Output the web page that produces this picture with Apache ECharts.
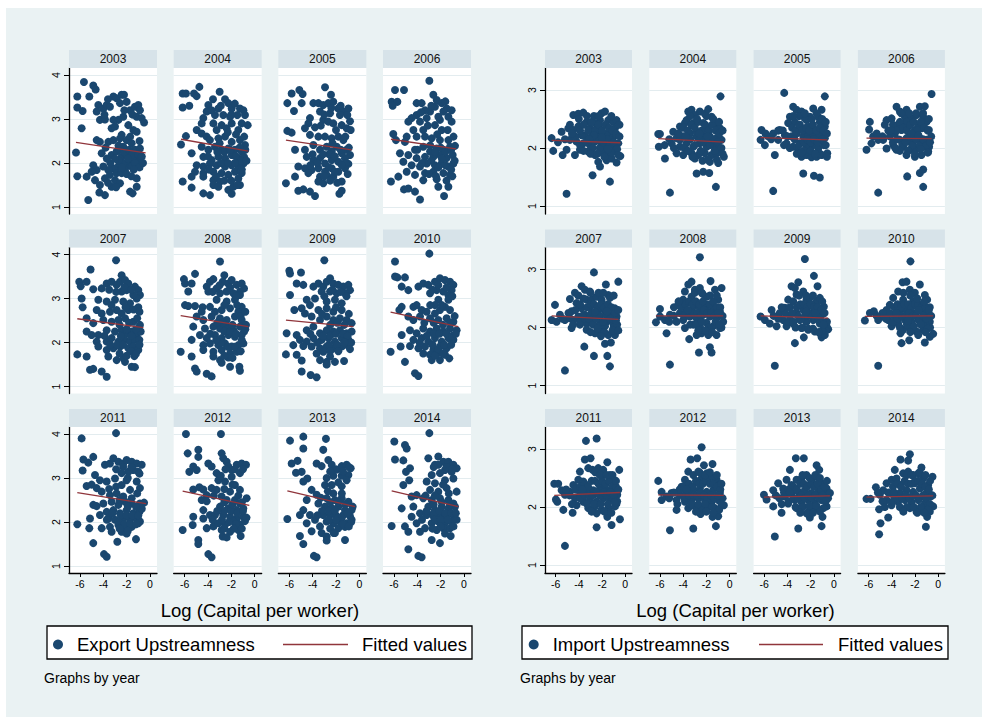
<!DOCTYPE html>
<html>
<head>
<meta charset="utf-8">
<script src="https://cdn.jsdelivr.net/npm/echarts@6/dist/echarts.min.js"></script>
<style>
html, body { margin: 0; padding: 0; background: #ffffff; }
#chart { width: 982px; height: 718px; }
</style>
</head>
<body>
<div id="chart"></div>
<script>
// ---- data: [log capital per worker, upstreamness] per country, one array per year ----
const years = ['2003', '2004', '2005', '2006', '2007', '2008', '2009', '2010', '2011', '2012', '2013', '2014'];

const exp2003 = [[-5.66,3.84],[-4.86,3.76],[-4.66,3.67],[-6.23,3.51],[-5.2,3.51],[-6.23,3.26],[-5.77,3.18],[-5.86,2.79],[-6.34,2.24],[-6.23,1.7],[-5.43,1.69],[-5.29,1.16],
[-4.43,3.32],[-4.57,3.17],[-4.0,3.24],[-3.71,3.32],[-3.43,3.28],[-4.29,2.98],[-3.86,2.99],[-3.14,3.51],[-2.86,3.47],[-2.43,3.55],[-2.23,3.55],[-2.57,3.36],[-2.0,3.39],[-1.71,3.2],[-1.29,3.28],[-1.0,3.32],[-0.86,3.2],[-1.14,3.05],[-0.71,3.02],[-0.51,2.92],[-2.29,3.05],[-2.71,2.98],[-3.14,2.98],[-3.29,2.79],[-3.0,2.83],[-1.43,2.75],[-1.14,2.71],[-1.86,2.86],[-2.43,2.64],
[-4.57,2.52],[-4.29,2.48],[-3.57,2.48],[-3.14,2.52],[-2.57,2.56],[-2.0,2.52],[-1.57,2.45],[-2.29,2.37],[-1.29,2.3],[-0.86,2.33],
[-4.14,2.22],[-3.29,2.18],[-2.86,2.26],[-2.43,2.14],[-2.0,2.18],[-1.71,2.07],[-1.43,2.11],[-1.14,1.99],[-0.86,2.07],[-1.86,1.95],[-2.29,1.99],[-2.71,1.92],[-3.14,1.88],[-3.57,1.84],[-4.0,1.92],[-4.57,1.84],[-4.86,1.95],[-5.0,1.8],[-4.71,1.61],[-4.29,1.5],[-3.86,1.65],[-3.43,1.73],[-3.0,1.61],[-2.57,1.54],[-2.86,1.77],[-2.43,1.77],[-2.14,1.84],[-1.57,1.92],[-1.14,1.65],[-1.71,1.35],[-1.49,1.31],[-1.14,1.46],[-3.29,1.46],[-3.86,1.27],[-4.34,1.33],
[-2.6,2.3],[-2.2,2.25],[-1.8,2.3],[-1.5,2.2],[-1.0,2.2],[-0.7,2.15],[-2.7,2.05],[-2.4,1.9],[-1.9,2.1],[-1.3,2.0],[-0.9,1.9],[-0.6,2.0],[-3.4,2.0],[-3.0,2.1],[-2.0,1.75],[-1.6,1.7],[-3.7,2.1],[-1.4,1.85],[-2.9,1.45],[-3.6,1.55],[-2.2,3.2],[-1.5,3.1],[-3.9,3.1],[-3.6,3.45],[-0.9,2.5],[-1.7,2.6],[-2.7,2.4],[-3.8,2.35]];

const exp2004 = [[-6.17,3.58],[-5.89,3.58],[-5.2,3.58],[-4.97,3.52],[-4.74,3.73],[-6.17,3.26],[-5.6,3.3],
[-3.0,3.62],[-3.57,3.45],[-2.54,3.45],[-2.26,3.36],[-3.97,3.32],[-3.11,3.24],[-1.97,3.24],[-1.26,3.24],[-0.83,3.09],[-0.97,3.2],[-1.49,3.09],[-2.11,3.05],[-2.69,3.09],[-3.4,3.09],[-4.11,3.17],[-4.4,3.02],[-4.54,2.9],[-3.54,2.9],[-2.83,2.86],[-1.97,2.9],[-1.11,2.9],[-0.6,2.86],[-1.4,2.75],[-2.4,2.79],[-3.26,2.75],
[-4.97,2.75],[-4.54,2.67],[-4.11,2.6],[-5.89,2.61],[-6.31,2.42],[-5.4,2.22],
[-3.83,2.52],[-3.11,2.56],[-2.54,2.6],[-1.97,2.48],[-1.26,2.52],[-0.83,2.41],
[-4.54,2.37],[-3.97,2.3],[-3.4,2.37],[-2.83,2.3],[-2.26,2.33],[-1.69,2.3],[-1.11,2.26],
[-4.4,2.14],[-3.69,2.07],[-3.11,2.14],[-2.54,2.11],[-1.97,2.18],[-1.4,2.11],[-0.91,2.14],
[-4.97,1.95],[-4.4,1.92],[-3.83,1.99],[-3.26,1.95],[-2.54,1.92],[-1.97,1.95],[-1.4,1.92],[-0.97,1.99],
[-5.11,1.8],[-4.4,1.77],[-3.54,1.8],[-2.83,1.77],[-2.26,1.73],[-1.69,1.8],[-1.11,1.77],
[-6.17,1.58],[-5.4,1.69],[-4.4,1.69],[-3.54,1.61],[-2.97,1.58],[-1.4,1.65],
[-5.4,1.44],[-3.54,1.5],[-3.11,1.46],[-2.26,1.39],[-1.83,1.46],[-1.26,1.5],[-1.97,1.3],[-4.4,1.31],[-3.83,1.27],
[-2.6,2.25],[-2.1,2.3],[-1.6,2.15],[-1.2,2.05],[-0.8,2.3],[-2.9,2.0],[-2.3,2.0],[-1.7,2.0],[-1.1,1.85],[-0.7,2.05],[-3.3,1.7],[-2.6,1.6],[-2.0,1.6],[-1.5,1.5],[-3.9,1.85],[-3.2,2.25],[-2.0,3.1],[-1.7,3.35],[-2.9,3.3],[-3.7,3.2],[-0.9,2.6],[-1.6,2.65],[-2.3,2.7],[-3.0,2.45],[-4.0,2.15],[-1.3,2.35]];

const exp2005 = [[-5.8,3.58],[-5.14,3.66],[-4.86,3.57],[-6.17,3.36],[-4.94,3.36],[-5.6,3.18],[-2.94,3.72],[-2.43,3.55],
[-3.94,3.36],[-3.51,3.36],[-3.09,3.32],[-2.66,3.36],[-2.23,3.39],[-1.8,3.24],[-1.37,3.17],[-0.94,3.24],[-1.03,3.09],[-1.66,3.09],[-2.51,3.13],[-3.37,3.17],[-4.23,3.02],[-4.37,2.9],[-4.66,2.79],[-3.09,2.98],[-2.66,2.94],[-2.23,2.9],[-1.51,2.86],[-1.09,2.79],[-0.74,2.75],[-3.8,2.81],
[-6.17,2.73],[-5.8,2.69],
[-4.23,2.64],[-3.51,2.6],[-2.94,2.6],[-2.37,2.56],[-1.8,2.6],[-1.37,2.52],
[-5.51,2.3],[-4.66,2.3],[-3.94,2.41],[-3.37,2.3],[-2.8,2.37],[-2.37,2.26],[-1.94,2.37],[-1.51,2.22],[-1.09,2.3],[-0.8,2.18],
[-4.51,2.14],[-3.94,2.07],[-3.37,2.11],[-2.94,1.99],[-2.37,2.07],[-1.8,2.03],[-1.23,2.11],[-0.94,1.98],
[-5.23,1.92],[-4.66,1.88],[-4.09,1.84],[-3.51,1.88],[-2.94,1.8],[-2.37,1.88],[-1.8,1.8],[-1.23,1.88],
[-5.51,1.69],[-4.37,1.77],[-3.37,1.69],[-2.8,1.73],[-2.23,1.69],[-1.51,1.58],
[-6.29,1.54],[-3.51,1.58],[-3.09,1.54],
[-5.23,1.37],[-4.8,1.4],[-4.23,1.35],[-3.8,1.25],[-1.71,1.3],[-1.51,1.37],
[-2.6,2.2],[-2.1,2.15],[-1.6,2.3],[-1.2,2.0],[-0.9,2.35],[-2.6,1.9],[-2.1,1.8],[-1.5,1.95],[-1.0,1.75],[-3.1,2.2],[-3.6,2.0],[-4.2,1.95],[-2.5,1.6],[-1.9,1.55],[-3.0,1.7],[-2.4,3.25],[-1.6,3.3],[-3.0,3.1],[-1.2,2.6],[-2.0,2.75],[-3.3,2.85],[-0.8,2.95],[-4.0,2.2],[-2.3,2.45]];

const exp2006 = [[-2.97,3.87],[-5.91,3.66],[-5.14,3.66],[-6.2,3.39],[-5.71,3.39],[-6.11,3.3],
[-4.06,3.36],[-3.63,3.36],[-2.63,3.55],[-2.34,3.43],[-1.91,3.36],[-2.49,3.28],[-1.49,3.24],[-1.06,3.2],[-1.77,3.17],[-2.91,3.17],[-3.34,3.2],[-4.06,3.09],[-4.49,3.02],[-4.77,2.94],[-3.77,2.94],[-3.2,3.02],[-2.06,2.98],[-1.34,3.05],[-1.06,2.94],[-2.49,2.86],[-3.49,2.75],[-4.34,2.75],[-1.91,2.75],
[-6.06,2.66],[-4.91,2.6],[-4.06,2.6],[-3.34,2.6],[-2.77,2.56],[-2.06,2.52],[-1.34,2.52],
[-5.83,2.52],[-5.06,2.48],[-4.2,2.3],[-3.49,2.37],[-2.91,2.26],[-2.34,2.33],[-1.77,2.3],[-1.2,2.37],[-0.77,2.39],
[-5.49,2.22],[-4.77,2.18],[-4.06,2.11],[-3.34,2.14],[-2.63,2.14],[-2.06,2.18],[-1.49,2.11],[-0.97,2.18],
[-5.2,2.03],[-4.49,1.95],[-3.77,1.92],[-3.2,1.99],[-2.49,1.95],[-1.91,1.99],[-1.34,1.92],[-0.91,1.99],
[-4.91,1.8],[-4.2,1.73],[-3.34,1.77],[-2.63,1.8],[-1.77,1.77],[-1.2,1.73],
[-5.63,1.69],[-6.26,1.58],[-3.49,1.61],[-2.34,1.63],[-1.0,1.7],
[-5.14,1.4],[-4.77,1.42],[-4.2,1.35],[-2.2,1.46],[-1.34,1.46],[-1.71,1.25],[-3.77,1.17],
[-2.5,2.25],[-2.0,2.35],[-1.6,2.25],[-1.1,2.3],[-0.8,2.05],[-2.8,2.05],[-2.2,1.9],[-1.6,1.95],[-1.1,1.85],[-3.0,1.75],[-2.4,1.7],[-1.5,1.6],[-3.6,2.0],[-4.0,2.3],[-2.9,2.4],[-2.2,3.05],[-1.6,3.4],[-2.8,3.3],[-3.7,3.15],[-1.4,2.75],[-2.3,2.65],[-3.1,2.85],[-0.9,2.6],[-1.9,2.1]];

const exp2007 = [[-2.91,3.87],[-5.09,3.66],[-6.06,3.38],[-5.94,3.28],[-5.43,3.38],[-5.86,3.0],[-5.77,2.8],
[-4.86,3.21],[-4.14,3.23],[-3.71,3.34],[-3.29,3.38],[-2.86,3.31],[-2.43,3.53],[-2.57,3.38],[-2.14,3.42],[-1.86,3.34],[-2.0,3.19],[-2.43,3.16],[-1.29,3.27],[-1.0,3.19],[-0.86,3.08],[-1.14,3.0],[-1.43,3.08],[-1.71,2.89],[-1.0,2.8],
[-4.43,2.97],[-3.71,2.93],[-3.0,2.97],[-2.29,2.93],
[-4.57,2.74],[-4.14,2.66],[-3.43,2.7],[-2.86,2.74],[-2.43,2.66],[-1.86,2.74],
[-5.43,2.55],[-4.86,2.44],[-4.0,2.51],[-3.29,2.47],[-2.71,2.51],[-2.14,2.55],[-1.43,2.47],[-0.86,2.4],
[-5.43,2.25],[-5.0,2.17],[-4.43,2.17],[-3.71,2.28],[-3.0,2.25],[-2.43,2.28],[-2.0,2.21],[-1.57,2.25],[-1.14,2.17],[-0.8,2.25],
[-4.57,2.02],[-3.71,2.02],[-3.29,2.1],[-2.71,2.02],[-2.14,2.06],[-1.71,2.02],[-1.29,2.06],[-0.91,2.06],
[-4.43,1.91],[-3.71,1.83],[-3.14,1.87],[-2.57,1.91],[-1.86,1.87],[-1.43,1.91],[-1.0,1.83],
[-6.23,1.73],[-5.43,1.68],[-3.57,1.68],[-2.86,1.6],[-2.29,1.64],[-1.34,1.69],
[-5.14,1.38],[-4.86,1.4],[-4.14,1.34],[-3.71,1.22],[-2.14,1.56],[-1.57,1.45],[-1.29,1.44],
[-2.5,2.15],[-2.0,2.3],[-1.6,2.15],[-1.2,2.3],[-0.9,1.95],[-2.8,1.95],[-2.3,1.95],[-1.6,1.8],[-1.2,1.75],[-3.4,1.95],[-3.9,2.15],[-2.6,1.75],[-2.0,1.7],[-2.6,2.4],[-1.8,2.45],[-1.1,2.55],[-2.2,3.25],[-1.6,3.2],[-2.9,3.15],[-3.5,3.2],[-1.4,2.75],[-2.1,2.8],[-3.3,2.85],[-0.9,2.7]];

const exp2008 = [[-2.97,3.84],[-5.11,3.56],[-6.06,3.44],[-5.97,3.34],[-5.69,3.16],[-5.4,3.34],
[-5.97,2.85],[-5.69,2.83],[-5.11,2.83],[-4.46,2.8],[-4.54,2.7],
[-4.11,3.27],[-3.83,3.38],[-3.54,3.44],[-3.97,3.16],[-3.26,3.23],[-2.6,3.53],[-2.74,3.38],[-2.26,3.34],[-1.97,3.42],[-1.54,3.31],[-1.11,3.34],[-0.91,3.23],[-1.26,3.16],[-1.83,3.12],[-2.4,3.16],[-2.97,3.12],[-3.26,2.97],[-2.4,2.93],[-1.69,2.97],[-1.26,3.08],[-1.11,2.81],
[-3.83,2.81],[-3.4,2.7],[-2.83,2.74],[-2.11,2.78],[-1.4,2.7],
[-4.97,2.59],[-4.4,2.51],[-3.69,2.59],[-2.97,2.55],[-2.4,2.51],[-1.69,2.59],[-1.11,2.51],[-0.74,2.4],
[-5.26,2.36],[-4.26,2.32],[-3.54,2.36],[-2.97,2.32],[-2.4,2.36],[-1.83,2.28],[-1.26,2.36],[-0.91,2.25],
[-4.69,2.17],[-4.11,2.1],[-3.4,2.17],[-2.83,2.1],[-2.26,2.17],[-1.69,2.13],[-1.11,2.17],
[-5.4,2.06],[-4.4,1.94],[-3.83,1.98],[-3.11,1.94],[-2.54,1.98],[-1.97,1.91],[-1.4,1.94],[-0.97,1.98],
[-4.4,1.83],[-3.54,1.79],[-2.83,1.83],[-2.11,1.75],[-1.54,1.79],
[-6.34,1.79],[-5.4,1.68],[-3.54,1.68],[-2.97,1.6],[-2.26,1.66],[-2.83,1.54],[-2.11,1.45],
[-5.11,1.41],[-4.97,1.34],[-4.11,1.29],[-3.69,1.23],[-1.31,1.45],[-1.26,1.36],
[-2.6,2.25],[-2.1,2.25],[-1.6,2.2],[-1.1,2.05],[-0.8,2.3],[-2.9,2.0],[-2.3,1.9],[-1.7,1.9],[-1.2,1.8],[-3.3,2.05],[-3.8,2.2],[-2.6,1.7],[-1.9,1.65],[-2.7,2.45],[-1.9,2.4],[-1.2,2.6],[-2.1,3.25],[-1.6,3.05],[-3.0,3.3],[-3.6,3.15],[-1.5,2.85],[-2.6,2.85],[-3.2,2.45],[-0.8,2.7]];

const exp2009 = [[-3.0,3.87],[-6.0,3.63],[-5.94,3.57],[-5.0,3.59],[-5.37,3.34],[-5.94,3.08],[-4.8,3.31],
[-5.57,2.74],[-4.94,2.78],[-4.66,2.66],
[-6.29,1.73],[-5.37,1.72],[-4.94,1.59],[-4.94,1.34],[-4.17,1.26],[-3.66,1.21],
[-3.94,3.27],[-3.51,3.34],[-3.09,3.27],[-2.8,3.38],[-2.51,3.46],[-2.23,3.34],[-1.8,3.31],[-1.37,3.27],[-0.94,3.31],[-0.8,3.19],[-1.23,3.12],[-1.94,3.12],[-2.51,3.16],[-3.23,3.16],[-3.8,3.0],[-2.8,2.93],[-2.09,2.97],[-1.51,2.89],[-4.51,2.97],[-4.23,2.85],
[-3.51,2.74],[-2.8,2.78],[-2.23,2.7],[-1.51,2.74],
[-4.09,2.59],[-3.37,2.51],[-2.8,2.59],[-2.23,2.51],[-1.66,2.55],[-1.09,2.51],[-0.66,2.44],
[-6.23,2.21],[-5.37,2.17],[-4.51,2.28],[-3.94,2.36],[-3.37,2.21],[-2.8,2.28],[-2.23,2.25],[-1.66,2.28],[-1.09,2.21],[-0.66,2.25],
[-5.09,2.06],[-4.51,2.02],[-3.94,2.1],[-3.23,2.06],[-2.66,2.1],[-2.09,2.02],[-1.51,2.1],[-0.94,2.06],
[-5.66,1.94],[-4.8,1.92],[-4.09,1.91],[-3.37,1.87],[-2.8,1.91],[-2.23,1.87],[-1.51,1.91],[-0.94,1.92],
[-3.66,1.75],[-3.09,1.79],[-2.51,1.68],[-3.37,1.6],[-2.8,1.56],[-2.8,1.5],[-2.09,1.56],[-1.31,1.58],
[-2.5,2.15],[-2.0,2.2],[-1.4,2.2],[-1.0,2.15],[-0.7,2.0],[-2.6,1.95],[-1.9,1.95],[-1.3,2.0],[-0.8,1.85],[-3.1,2.15],[-3.6,2.0],[-4.2,2.2],[-2.5,1.8],[-1.8,1.8],[-2.5,2.4],[-1.9,2.45],[-1.3,2.4],[-2.3,3.2],[-1.6,3.15],[-3.0,3.05],[-1.1,3.05],[-2.0,2.8],[-3.2,2.65],[-0.9,2.65]];

const exp2010 = [[-2.97,4.02],[-5.91,3.84],[-5.91,3.5],[-5.71,3.48],[-5.06,3.48],[-5.34,3.27],[-4.77,3.19],[-5.34,2.81],[-5.54,2.74],[-6.29,1.79],[-5.43,1.91],[-5.06,1.56],[-4.2,1.3],[-3.91,1.24],
[-4.34,2.81],[-4.06,2.85],[-3.63,2.74],[-3.2,2.7],[-4.77,2.59],[-4.34,2.51],[-3.77,2.59],
[-3.91,3.27],[-3.49,3.34],[-3.06,3.31],[-2.49,3.38],[-2.06,3.46],[-1.63,3.42],[-1.2,3.38],[-0.91,3.31],[-1.06,3.19],[-1.34,3.08],[-1.77,3.16],[-2.34,3.19],[-2.91,3.12],[-1.34,2.97],[-2.2,2.97],[-2.49,2.85],[-1.63,2.81],[-1.2,2.74],[-2.06,2.74],[-2.49,2.66],
[-2.91,2.55],[-2.2,2.51],[-1.49,2.55],[-0.91,2.47],
[-5.34,2.17],[-4.63,2.28],[-4.06,2.21],[-3.49,2.32],[-2.91,2.25],[-2.34,2.32],[-1.77,2.25],[-1.2,2.32],[-0.63,2.28],
[-4.34,2.06],[-3.63,2.1],[-3.06,2.02],[-2.49,2.1],[-1.91,2.02],[-1.34,2.1],[-0.91,2.06],
[-4.63,1.92],[-3.91,1.87],[-3.34,1.91],[-2.63,1.83],[-2.06,1.91],[-1.49,1.87],
[-3.49,1.75],[-2.91,1.72],[-2.34,1.75],[-2.77,1.6],[-2.06,1.6],[-1.26,1.64],[-1.63,1.72],
[-2.6,2.2],[-2.1,2.2],[-1.5,2.2],[-1.0,2.15],[-0.7,2.2],[-2.7,1.95],[-2.2,1.85],[-1.7,1.95],[-1.1,1.95],[-3.2,2.15],[-3.8,2.0],[-2.5,1.7],[-1.8,1.75],[-2.6,2.45],[-1.8,2.4],[-1.2,2.45],[-2.2,3.3],[-1.5,3.25],[-2.7,3.2],[-1.0,3.05],[-1.9,2.85],[-2.9,2.85],[-3.4,2.45],[-0.8,2.6]];

const exp2011 = [[-2.91,4.02],[-5.86,3.9],[-5.71,3.42],[-5.77,3.17],[-5.29,3.35],[-4.86,3.48],
[-6.23,1.95],[-5.14,2.08],[-5.2,1.86],[-4.86,1.52],[-3.94,1.27],[-3.71,1.21],[-2.8,1.55],[-1.2,1.61],
[-4.71,3.07],[-4.29,2.95],[-5.43,2.82],[-5.0,2.85],[-4.57,2.77],[-4.86,2.39],[-4.57,2.36],
[-3.86,3.3],[-3.43,3.33],[-3.14,3.45],[-2.71,3.37],[-2.29,3.33],[-2.0,3.41],[-1.57,3.37],[-1.14,3.33],[-0.71,3.3],[-1.0,3.14],[-1.43,3.18],[-1.86,3.14],[-2.43,3.11],[-3.0,2.99],[-3.71,2.92],[-2.0,2.95],[-1.14,2.92],[-2.43,2.84],[-1.71,2.73],[-0.86,2.77],
[-4.14,2.69],[-3.43,2.61],[-2.86,2.65],[-2.29,2.58],[-1.57,2.54],
[-4.0,2.42],[-3.29,2.46],[-2.71,2.39],[-2.14,2.46],[-1.57,2.42],[-0.86,2.42],[-0.51,2.44],
[-3.71,2.23],[-3.14,2.27],[-2.57,2.2],[-2.0,2.27],[-1.43,2.2],[-0.91,2.23],
[-4.29,2.16],[-3.57,2.08],[-3.0,2.05],[-2.29,2.08],[-1.71,2.05],[-1.14,2.08],[-0.86,2.01],
[-4.14,1.86],[-3.43,1.89],[-2.71,1.93],[-2.14,1.86],[-1.57,1.89],[-1.0,1.97],
[-3.29,1.78],[-2.43,1.78],[-2.0,1.74],
[-2.5,2.15],[-2.0,2.15],[-1.5,2.15],[-1.0,2.15],[-0.7,2.3],[-2.7,2.0],[-2.2,1.95],[-1.7,1.95],[-1.2,1.95],[-3.2,2.2],[-3.7,2.05],[-2.6,1.85],[-1.9,1.8],[-2.6,2.5],[-1.9,2.35],[-1.2,2.35],[-2.3,3.25],[-1.6,3.25],[-2.9,3.2],[-0.9,3.1],[-1.9,3.0],[-2.9,2.8],[-3.5,2.75],[-1.1,2.65]];

const exp2012 = [[-5.89,4.0],[-2.89,4.0],[-5.74,3.56],[-4.83,3.64],[-4.83,3.48],[-5.6,3.14],[-5.26,3.26],[-4.97,3.18],[-5.26,2.74],[-4.74,2.79],[-6.17,1.82],[-5.26,2.12],[-5.31,1.93],[-4.83,1.59],[-4.83,1.5],[-3.97,1.27],[-3.69,1.2],[-2.74,1.67],[-1.2,1.68],
[-4.4,2.74],[-4.11,2.61],[-3.69,2.77],[-3.26,2.73],[-4.54,2.5],[-4.11,2.47],[-4.4,2.27],[-4.4,2.08],[-3.83,2.16],[-3.54,1.9],[-4.11,1.86],
[-3.97,3.33],[-3.69,3.26],[-3.26,3.11],[-2.83,3.56],[-2.69,3.45],[-2.4,3.37],[-2.26,3.26],[-1.97,3.18],[-1.54,3.3],[-1.11,3.33],[-0.74,3.3],[-1.26,3.11],[-1.97,3.03],[-2.54,2.92],[-3.11,2.95],[-1.69,2.84],[-1.26,2.73],[-2.11,2.69],[-2.83,2.58],[-0.69,2.54],
[-2.4,2.5],[-1.69,2.5],[-1.26,2.42],[-2.97,2.35],[-2.26,2.31],[-1.54,2.27],[-0.97,2.31],[-3.4,2.16],[-2.69,2.16],[-2.11,2.12],[-1.54,2.08],[-0.97,2.12],
[-3.11,1.97],[-2.54,1.94],[-1.83,2.02],[-1.26,1.94],[-0.83,2.02],[-2.83,1.82],[-2.11,1.78],[-1.4,1.82],[-2.4,1.65],
[-2.6,2.25],[-2.0,2.25],[-1.5,2.2],[-1.0,2.25],[-0.7,2.1],[-2.8,2.05],[-2.2,2.0],[-1.6,1.95],[-1.1,1.85],[-3.2,2.25],[-3.6,2.05],[-2.6,1.85],[-1.8,1.85],[-2.6,2.45],[-1.9,2.4],[-1.1,2.45],[-2.5,3.2],[-1.7,3.2],[-2.9,3.05],[-1.0,3.2],[-1.9,2.85],[-2.6,2.75],[-3.5,2.6],[-1.4,2.6]];

const exp2013 = [[-5.94,3.85],[-4.8,3.94],[-4.8,3.67],[-5.29,3.39],[-5.8,3.33],[-5.43,3.12],[-4.94,3.14],[-4.46,2.99],[-4.8,2.92],[-6.17,2.07],[-5.09,1.68],[-4.8,1.5],[-3.89,1.23],[-3.66,1.2],[-1.23,1.59],
[-2.86,3.89],[-3.09,3.64],[-4.09,2.73],[-3.66,2.62],[-4.51,2.5],[-3.51,2.42],[-4.8,2.27],[-4.23,2.16],[-5.09,2.16],[-4.51,1.97],[-3.8,2.05],[-3.37,1.9],[-4.09,1.79],[-3.23,1.75],[-2.8,1.67],[-2.09,1.75],[-2.8,1.58],
[-3.66,3.33],[-3.23,3.27],[-2.66,3.41],[-2.37,3.3],[-1.94,3.19],[-1.51,3.27],[-1.09,3.3],[-0.74,3.22],[-0.94,3.07],[-1.51,3.05],[-2.23,3.05],[-2.8,3.0],[-2.94,2.84],[-2.37,2.84],[-1.51,2.81],[-1.09,2.95],[-2.23,2.65],
[-2.8,2.54],[-2.09,2.5],[-1.51,2.54],[-0.94,2.46],[-0.57,2.35],
[-2.94,2.35],[-2.37,2.32],[-1.8,2.35],[-1.23,2.27],[-0.66,2.27],[-3.09,2.16],[-2.51,2.16],[-1.94,2.13],[-1.37,2.16],[-0.8,2.13],
[-2.8,2.01],[-2.23,1.97],[-1.66,2.01],[-1.09,1.97],[-0.66,2.05],[-1.8,1.86],[-1.23,1.89],
[-2.6,2.25],[-2.1,2.25],[-1.5,2.1],[-1.0,2.2],[-0.7,2.0],[-2.6,2.05],[-2.0,2.05],[-1.4,1.95],[-0.9,1.9],[-3.2,2.25],[-3.6,2.15],[-2.5,1.85],[-2.2,1.75],[-2.5,2.45],[-1.8,2.45],[-1.2,2.4],[-2.1,3.2],[-1.4,3.15],[-2.5,3.15],[-0.9,3.25],[-1.8,2.9],[-2.7,2.7],[-3.3,2.55],[-1.5,2.65]];

const exp2014 = [[-5.97,3.83],[-2.97,4.02],[-5.06,3.75],[-4.91,3.67],[-5.91,3.42],[-5.2,3.4],[-4.63,3.22],[-4.97,3.14],[-4.69,2.95],[-5.2,2.84],[-6.2,1.91],[-5.06,1.9],[-4.77,1.78],[-4.77,1.38],[-3.91,1.23],[-3.63,1.2],[-2.06,1.52],[-1.14,1.68],
[-5.34,2.31],[-4.49,2.58],[-4.06,2.61],[-4.34,2.35],[-3.77,2.2],[-4.49,2.12],[-4.06,1.97],[-3.34,1.86],[-3.77,1.78],[-2.77,1.59],
[-3.06,3.45],[-2.49,3.3],[-2.2,3.49],[-1.77,3.37],[-1.34,3.37],[-0.91,3.3],[-0.63,3.22],[-1.06,3.14],[-1.63,3.18],[-2.06,3.11],[-2.77,3.07],[-3.2,2.92],[-2.49,2.88],[-1.63,2.95],[-0.91,2.99],[-1.49,2.77],[-2.2,2.69],[-0.63,2.69],[-2.91,2.73],
[-3.49,2.54],[-2.77,2.5],[-2.06,2.54],[-1.34,2.5],[-0.91,2.42],
[-3.06,2.35],[-2.49,2.27],[-1.91,2.35],[-1.34,2.31],[-0.77,2.35],[-3.2,2.16],[-2.63,2.13],[-2.06,2.16],[-1.49,2.13],[-0.91,2.16],
[-2.77,1.97],[-2.2,2.01],[-1.63,1.97],[-1.06,2.01],[-0.63,2.05],[-2.34,1.82],[-1.77,1.86],[-1.2,1.86],[-1.63,1.74],
[-2.6,2.2],[-2.1,2.25],[-1.6,2.2],[-1.1,2.2],[-0.7,2.2],[-2.5,2.05],[-2.0,2.05],[-1.4,2.05],[-0.9,1.9],[-3.2,2.25],[-3.6,2.05],[-2.7,1.85],[-2.0,1.9],[-2.6,2.4],[-1.9,2.45],[-1.2,2.4],[-2.2,3.3],[-1.5,3.25],[-2.6,3.25],[-1.0,3.2],[-1.8,2.85],[-2.5,2.6],[-3.3,2.6],[-1.3,2.65]];

const imp2003 = [[-5.06,1.21],[-2.82,1.53],[-1.32,1.42],[-6.35,2.17],[-6.21,1.95],[-5.4,1.88],
[-5.49,2.28],[-4.91,2.34],[-4.77,2.4],[-4.48,2.57],[-4.05,2.59],[-3.62,2.61],[-4.48,2.31],[-4.05,2.37],[-4.77,2.14],[-4.2,2.11],[-5.06,1.97],[-4.34,1.88],[-3.91,1.97],
[-3.33,2.45],[-3.05,2.34],[-2.61,2.43],[-2.18,2.48],[-2.04,2.6],[-1.75,2.63],[-1.47,2.48],[-1.03,2.45],[-0.75,2.48],[-0.89,2.34],
[-3.48,2.22],[-2.9,2.2],[-2.33,2.25],[-1.9,2.2],[-1.47,2.25],[-1.03,2.2],
[-3.62,2.08],[-3.05,2.05],[-2.61,2.11],[-2.04,2.08],[-1.61,2.02],[-1.03,2.05],[-0.6,2.08],
[-3.19,1.94],[-2.61,1.88],[-2.04,1.94],[-1.47,1.91],[-0.89,1.94],[-0.42,1.86],
[-2.33,1.76],[-1.61,1.79],[-1.18,1.82],[-0.75,1.75],[-2.18,1.68],
[-2.47,2.31],[-1.75,2.14],[-1.32,2.14],[-2.9,2.31],[-3.76,2.22],
[-4.3,2.2],[-3.9,2.3],[-3.6,2.4],[-3.2,2.3],[-2.9,2.45],[-2.6,2.3],[-2.3,2.4],[-2.0,2.3],[-1.7,2.4],[-1.4,2.35],[-1.1,2.3],[-0.8,2.25],[-0.5,2.2],[-3.9,2.05],[-3.4,2.1],[-2.8,2.0],[-2.5,2.15],[-2.2,2.0],[-1.9,2.1],[-1.6,2.15],[-1.3,2.05],[-1.0,2.1],[-0.7,1.98],[-3.0,1.9],[-2.4,1.9],[-1.8,1.85],[-1.2,1.92],[-0.6,1.88],[-3.6,1.95],[-4.6,2.25],[-5.2,2.15],[-5.8,2.1],[-4.0,2.5],[-3.3,2.55],[-2.7,2.55],[-2.3,2.55],[-1.2,2.55],[-0.5,2.4],[-2.0,2.18],[-2.7,2.22],[-3.1,2.15],[-1.5,1.98]];

const imp2004 = [[-5.14,1.23],[-1.18,1.33],[-0.78,2.89],[-6.15,2.24],[-6.0,2.24],[-6.1,2.02],[-5.57,1.82],
[-4.86,2.28],[-4.28,2.37],[-3.85,2.43],[-3.56,2.63],[-3.28,2.66],[-2.99,2.57],[-2.56,2.63],[-2.13,2.59],[-1.84,2.67],[-1.55,2.54],[-3.71,2.48],[-3.13,2.43],[-2.27,2.43],[-1.12,2.4],[-0.83,2.34],
[-4.57,2.17],[-4.0,2.2],[-3.42,2.25],[-2.84,2.2],[-2.27,2.22],[-1.7,2.2],[-1.12,2.17],[-0.69,2.14],
[-4.28,2.02],[-3.71,2.08],[-3.13,2.02],[-2.56,2.08],[-1.98,2.02],[-1.41,2.05],[-0.89,1.99],[-0.49,1.85],
[-4.57,1.91],[-4.0,1.88],[-3.28,1.91],[-2.7,1.88],[-2.13,1.91],[-1.55,1.88],[-1.12,1.91],
[-2.99,1.82],[-2.33,1.78],[-1.7,1.76],[-0.98,1.74],[-2.84,1.56],[-2.27,1.59],[-1.75,1.57],
[-2.84,2.28],[-1.98,2.34],[-4.28,2.14],[-5.0,2.08],
[-4.4,2.25],[-4.0,2.35],[-3.6,2.3],[-3.3,2.4],[-3.0,2.35],[-2.7,2.45],[-2.4,2.3],[-2.1,2.4],[-1.8,2.3],[-1.5,2.4],[-1.2,2.3],[-0.9,2.25],[-0.6,2.3],[-3.9,2.0],[-3.4,2.15],[-3.0,2.05],[-2.6,2.15],[-2.3,2.1],[-2.0,2.15],[-1.7,2.05],[-1.4,2.15],[-1.0,2.1],[-0.7,2.0],[-3.2,1.85],[-2.5,1.95],[-1.9,1.8],[-1.3,1.95],[-0.6,1.9],[-3.8,2.2],[-5.2,2.15],[-5.6,2.05],[-4.8,2.0],[-3.4,2.55],[-2.8,2.5],[-2.0,2.55],[-1.4,2.5],[-0.9,2.45],[-2.6,2.25],[-1.9,2.2],[-3.6,1.95],[-1.1,1.8]];

const imp2005 = [[-5.23,1.26],[-2.64,1.56],[-1.72,1.52],[-1.21,1.49],[-4.28,2.95],[-0.78,2.89],[-5.09,1.88],
[-6.24,2.31],[-6.32,2.14],[-5.95,2.05],[-5.66,2.2],
[-5.23,2.25],[-4.8,2.14],[-4.66,2.31],[-4.22,2.22],[-3.94,2.43],[-3.79,2.54],[-3.51,2.71],[-3.22,2.66],[-2.79,2.63],[-2.36,2.48],[-1.78,2.68],[-1.35,2.54],[-1.06,2.66],[-1.21,2.45],[-0.78,2.37],[-3.36,2.45],[-2.93,2.4],
[-4.08,2.08],[-3.65,2.2],[-3.22,2.25],[-2.64,2.2],[-2.21,2.25],[-1.78,2.2],[-1.21,2.22],[-0.78,2.17],
[-3.51,2.02],[-2.93,2.08],[-2.36,2.02],[-1.78,2.05],[-1.35,1.99],[-0.86,2.05],[-0.57,1.91],
[-2.79,1.85],[-2.36,1.88],[-1.93,1.84],[-1.49,1.85],[-1.06,1.88],[-3.07,1.94],
[-2.64,2.31],[-2.07,2.37],[-1.64,2.31],[-2.07,2.54],[-2.5,2.51],
[-4.4,2.3],[-4.0,2.2],[-3.6,2.35],[-3.3,2.3],[-3.0,2.4],[-2.7,2.3],[-2.4,2.35],[-2.1,2.3],[-1.8,2.4],[-1.5,2.3],[-1.2,2.35],[-0.9,2.3],[-0.6,2.25],[-3.8,2.0],[-3.4,2.15],[-3.0,2.05],[-2.6,2.1],[-2.3,2.15],[-2.0,2.1],[-1.7,2.15],[-1.4,2.1],[-1.0,2.15],[-0.7,2.05],[-3.2,1.9],[-2.6,1.95],[-2.0,1.95],[-1.2,1.9],[-0.6,1.85],[-4.8,2.3],[-5.4,2.15],[-5.9,2.25],[-3.0,2.55],[-2.5,2.6],[-1.5,2.6],[-1.0,2.5],[-0.7,2.45],[-1.9,2.5],[-3.5,2.55],[-2.8,1.92],[-1.6,1.9],[-4.3,2.05]];

const imp2006 = [[-5.17,1.23],[-0.57,2.93],[-2.67,1.51],[-1.58,1.57],[-1.29,1.63],[-1.29,1.33],
[-6.18,1.97],[-5.89,2.45],[-5.95,2.32],[-5.6,2.2],[-5.75,2.08],[-5.17,2.14],
[-4.45,2.48],[-4.02,2.51],[-3.59,2.71],[-3.3,2.63],[-2.73,2.66],[-2.87,2.54],[-2.3,2.51],[-1.87,2.57],[-1.29,2.54],[-1.58,2.71],[-1.15,2.72],[-1.01,2.45],[-0.8,2.31],
[-4.74,2.14],[-4.17,2.2],[-3.74,2.25],[-3.16,2.31],[-2.59,2.37],[-2.01,2.31],[-1.44,2.34],[-3.45,2.4],[-2.73,2.45],
[-4.45,1.99],[-3.88,2.05],[-3.3,2.14],[-2.73,2.17],[-2.16,2.14],[-1.58,2.17],[-1.01,2.14],[-0.78,2.02],
[-3.59,1.97],[-3.02,2.02],[-2.44,1.97],[-1.87,1.99],[-1.29,2.02],[-0.86,1.94],
[-2.73,1.88],[-2.01,1.85],[-1.44,1.88],[-2.16,2.25],[-1.72,2.37],[-2.3,2.08],
[-4.3,2.3],[-3.9,2.4],[-3.6,2.3],[-3.3,2.45],[-3.0,2.35],[-2.7,2.3],[-2.4,2.4],[-2.1,2.45],[-1.8,2.3],[-1.5,2.45],[-1.2,2.35],[-0.9,2.3],[-0.6,2.2],[-3.9,2.1],[-3.5,2.15],[-3.1,2.05],[-2.8,2.1],[-2.5,2.2],[-2.2,2.05],[-1.9,2.15],[-1.6,2.05],[-1.3,2.15],[-1.0,2.05],[-0.7,2.1],[-3.3,1.95],[-2.6,1.95],[-2.0,1.9],[-1.5,1.98],[-0.9,1.92],[-4.8,2.2],[-5.3,2.25],[-4.6,2.4],[-3.2,2.6],[-2.5,2.6],[-1.9,2.6],[-1.3,2.6],[-0.8,2.5],[-2.3,2.25],[-1.7,2.22],[-3.7,2.0],[-4.1,2.3]];

const imp2007 = [[-5.2,1.26],[-2.7,2.95],[-3.53,1.67],[-2.7,1.51],[-1.55,1.51],[-1.32,1.33],[-1.75,1.72],[-1.24,1.74],[-0.6,2.79],[-1.67,2.74],
[-6.06,2.39],[-6.35,2.13],[-5.92,2.1],[-5.63,2.22],[-5.2,2.13],[-4.77,2.16],[-4.63,2.28],[-4.77,2.49],[-4.34,2.6],[-4.05,2.55],[-3.76,2.71],[-3.48,2.65],[-3.05,2.62],[-3.33,2.48],[-4.2,2.42],[-3.76,2.33],[-2.9,2.48],[-2.47,2.53],[-2.04,2.48],[-1.47,2.56],[-1.32,2.51],[-0.89,2.33],
[-4.48,2.13],[-4.05,2.19],[-3.48,2.22],[-2.9,2.25],[-2.33,2.3],[-1.75,2.28],[-1.18,2.22],[-0.75,2.19],
[-4.63,1.99],[-3.91,2.05],[-3.33,2.07],[-2.76,2.13],[-2.18,2.07],[-1.61,2.1],[-1.03,2.07],
[-3.33,1.96],[-2.61,1.9],[-2.04,1.93],[-1.47,1.87],[-0.89,1.87],[-2.33,2.02],[-1.75,2.02],
[-3.05,2.36],[-1.9,2.39],[-2.61,2.19],
[-4.3,2.3],[-3.9,2.4],[-3.6,2.5],[-3.3,2.35],[-3.0,2.4],[-2.7,2.4],[-2.4,2.35],[-2.1,2.4],[-1.8,2.35],[-1.5,2.4],[-1.2,2.35],[-0.9,2.25],[-0.6,2.3],[-3.9,2.1],[-3.5,2.15],[-3.1,2.15],[-2.8,2.05],[-2.5,2.15],[-2.2,2.2],[-1.9,2.1],[-1.6,2.2],[-1.3,2.15],[-1.0,2.0],[-0.7,2.05],[-3.0,1.92],[-2.4,1.98],[-1.8,1.92],[-1.1,1.95],[-0.6,1.95],[-4.9,2.25],[-5.4,2.15],[-4.5,2.05],[-3.0,2.6],[-2.3,2.6],[-1.9,2.6],[-1.0,2.55],[-2.6,2.27],[-1.6,2.28],[-3.7,2.2],[-0.8,2.12],[-2.1,1.85]];

const imp2008 = [[-5.14,1.36],[-2.56,3.21],[-2.64,1.57],[-1.55,1.57],[-1.7,1.66],[-3.48,1.8],[-5.43,1.9],
[-6.35,2.09],[-6.0,2.32],[-6.0,2.19],[-5.57,2.13],[-5.14,2.22],[-4.8,2.35],[-4.43,2.39],[-4.0,2.48],[-3.85,2.62],[-3.56,2.74],[-3.28,2.79],[-2.99,2.65],[-2.56,2.68],[-2.33,2.58],[-1.98,2.53],[-1.64,2.8],[-1.26,2.65],[-0.69,2.68],[-0.98,2.48],[-3.28,2.53],
[-4.28,2.25],[-3.71,2.3],[-3.13,2.36],[-2.56,2.33],[-1.98,2.39],[-1.41,2.33],[-0.83,2.28],
[-4.57,2.1],[-4.0,2.13],[-3.42,2.19],[-2.84,2.16],[-2.27,2.22],[-1.7,2.19],[-1.12,2.16],[-0.55,2.1],
[-3.85,1.99],[-3.13,2.05],[-2.56,2.02],[-1.98,2.08],[-1.41,2.02],[-0.83,1.99],[-2.41,1.9],[-1.84,1.87],[-1.12,1.87],[-2.84,1.87],
[-4.2,2.35],[-3.8,2.4],[-3.5,2.45],[-3.2,2.4],[-2.9,2.45],[-2.6,2.4],[-2.3,2.45],[-2.0,2.3],[-1.7,2.4],[-1.4,2.45],[-1.1,2.35],[-0.8,2.35],[-0.6,2.2],[-3.9,2.2],[-3.5,2.2],[-3.1,2.25],[-2.8,2.25],[-2.5,2.2],[-2.2,2.3],[-1.9,2.25],[-1.6,2.25],[-1.3,2.2],[-1.0,2.25],[-0.7,2.0],[-3.4,2.05],[-2.9,2.05],[-2.4,2.1],[-1.8,2.0],[-1.2,2.1],[-0.9,2.05],[-4.8,2.2],[-5.2,2.1],[-4.4,2.45],[-3.0,2.6],[-2.4,2.6],[-1.7,2.55],[-1.1,2.55],[-2.1,1.95],[-1.5,1.92],[-2.7,1.95],[-3.6,2.3]];

const imp2009 = [[-5.09,1.34],[-2.5,3.18],[-1.72,2.89],[-1.41,2.71],[-3.36,1.73],[-2.59,1.83],[-1.06,1.83],
[-6.32,2.19],[-5.95,2.13],[-5.37,2.3],[-5.52,2.07],[-4.94,2.02],[-4.66,2.25],[-4.22,2.34],[-3.94,2.48],[-3.65,2.71],[-3.36,2.68],[-3.07,2.78],[-3.22,2.57],[-2.64,2.62],[-2.36,2.48],[-2.07,2.51],[-1.49,2.45],[-1.21,2.51],[-0.86,2.36],
[-4.37,2.13],[-3.79,2.19],[-3.22,2.25],[-2.64,2.3],[-2.07,2.25],[-1.49,2.28],[-1.06,2.22],
[-4.08,2.02],[-3.51,2.07],[-2.93,2.13],[-2.36,2.1],[-1.78,2.13],[-1.21,2.07],[-0.63,2.02],[-0.49,1.97],
[-2.79,1.99],[-2.21,1.96],[-1.64,1.93],[-1.21,1.9],[-0.78,1.87],[-1.78,2.36],
[-4.2,2.25],[-3.8,2.35],[-3.5,2.45],[-3.2,2.35],[-2.9,2.4],[-2.6,2.4],[-2.3,2.35],[-2.0,2.4],[-1.7,2.35],[-1.4,2.35],[-1.1,2.3],[-0.8,2.25],[-0.6,2.1],[-3.9,2.1],[-3.5,2.1],[-3.1,2.2],[-2.8,2.15],[-2.5,2.2],[-2.2,2.2],[-1.9,2.2],[-1.6,2.15],[-1.3,2.15],[-1.0,2.1],[-0.7,1.95],[-3.3,2.0],[-2.7,2.0],[-2.2,1.98],[-1.8,1.98],[-1.0,1.95],[-4.8,2.15],[-5.2,2.2],[-4.5,2.35],[-3.0,2.55],[-2.4,2.55],[-1.8,2.55],[-1.0,2.45],[-2.4,2.27],[-1.6,2.25],[-3.6,2.25],[-1.3,1.92],[-0.9,2.05]];

const imp2010 = [[-5.17,1.34],[-2.39,3.14],[-3.16,1.73],[-2.5,1.78],[-1.15,1.74],[-0.72,1.84],[-0.43,1.89],[-3.25,1.9],
[-6.32,2.12],[-5.89,2.25],[-5.55,2.28],[-5.17,2.13],[-4.74,2.19],[-4.45,2.3],[-4.17,2.39],[-3.88,2.51],[-3.45,2.62],[-3.07,2.78],[-2.73,2.79],[-2.44,2.65],[-2.01,2.6],[-1.58,2.74],[-1.15,2.56],[-0.95,2.48],[-0.72,2.35],[-2.16,2.45],[-3.02,2.48],
[-4.31,2.13],[-3.88,2.22],[-3.3,2.28],[-2.73,2.3],[-2.16,2.25],[-1.58,2.3],[-1.01,2.25],
[-4.02,2.02],[-3.45,2.07],[-2.87,2.13],[-2.3,2.1],[-1.72,2.13],[-1.15,2.07],[-0.72,2.1],
[-3.02,1.96],[-2.44,1.99],[-1.87,1.93],[-1.29,1.96],[-1.72,1.87],[-2.59,2.19],[-1.87,2.39],[-1.29,2.39],
[-4.2,2.25],[-3.8,2.35],[-3.5,2.4],[-3.2,2.35],[-2.9,2.4],[-2.6,2.4],[-2.3,2.35],[-2.0,2.4],[-1.7,2.4],[-1.4,2.35],[-1.1,2.35],[-0.8,2.3],[-0.6,2.2],[-3.9,2.1],[-3.5,2.15],[-3.1,2.2],[-2.8,2.2],[-2.5,2.25],[-2.2,2.2],[-1.9,2.2],[-1.6,2.15],[-1.3,2.2],[-1.0,2.15],[-0.7,2.0],[-3.3,2.0],[-2.7,2.05],[-2.1,2.02],[-1.5,2.05],[-0.9,1.98],[-4.8,2.25],[-5.3,2.2],[-4.5,2.15],[-3.0,2.6],[-2.4,2.55],[-1.8,2.5],[-1.2,2.45],[-2.6,2.12],[-1.7,2.3],[-3.6,2.25],[-1.1,1.92],[-2.4,1.92]];

const imp2011 = [[-5.2,1.33],[-3.39,3.14],[-2.47,3.18],[-2.47,1.65],[-1.18,1.69],[-1.55,1.83],[-0.46,1.79],[-0.52,2.64],[-1.55,2.77],
[-6.12,2.4],[-5.78,2.4],[-5.98,2.13],[-5.86,2.09],[-5.34,1.95],[-4.54,1.9],
[-5.49,2.29],[-5.2,2.21],[-4.77,2.26],[-4.48,2.38],[-4.05,2.47],[-3.91,2.61],[-3.48,2.82],[-2.99,2.84],[-3.19,2.67],[-2.82,2.64],[-2.33,2.67],[-2.04,2.53],[-1.9,2.64],[-1.32,2.55],[-0.98,2.47],[-3.62,2.44],
[-4.34,2.15],[-3.91,2.21],[-3.33,2.26],[-2.76,2.29],[-2.18,2.32],[-1.61,2.29],[-1.03,2.26],[-0.69,2.21],
[-4.2,2.03],[-3.62,2.09],[-3.05,2.12],[-2.47,2.09],[-1.9,2.15],[-1.32,2.12],[-0.75,2.06],
[-3.19,1.98],[-2.61,2.01],[-2.04,1.95],[-1.47,1.98],[-0.89,2.01],[-2.47,1.89],[-1.75,2.38],
[-4.3,2.3],[-3.9,2.35],[-3.5,2.4],[-3.2,2.35],[-2.9,2.45],[-2.6,2.45],[-2.3,2.4],[-2.0,2.45],[-1.7,2.4],[-1.4,2.45],[-1.1,2.35],[-0.8,2.35],[-0.6,2.3],[-3.9,2.15],[-3.5,2.2],[-3.1,2.2],[-2.8,2.2],[-2.5,2.25],[-2.2,2.2],[-1.9,2.25],[-1.6,2.2],[-1.3,2.25],[-1.0,2.2],[-0.7,2.1],[-3.3,2.05],[-2.7,2.05],[-2.1,2.05],[-1.5,2.05],[-0.9,2.08],[-4.8,2.2],[-5.1,2.3],[-4.6,2.05],[-2.6,2.6],[-2.2,2.55],[-1.6,2.55],[-1.1,2.55],[-0.8,2.45],[-2.9,1.92],[-1.8,1.92],[-1.2,1.9],[-3.7,2.3]];

const imp2012 = [[-6.15,2.45],[-5.14,1.6],[-3.13,1.63],[-1.18,1.67],[-2.41,3.03],[-3.36,2.82],[-2.79,2.84],[-1.47,2.74],[-2.21,2.72],[-2.5,1.88],[-1.47,1.83],[-0.98,1.84],
[-5.86,2.26],[-5.86,2.12],[-5.43,2.18],[-5.0,2.24],[-4.57,2.12],[-4.57,1.95],[-4.14,2.35],[-3.85,2.47],[-3.56,2.61],[-3.13,2.55],[-2.7,2.61],[-2.41,2.49],[-1.98,2.58],[-1.55,2.52],[-1.12,2.47],[-0.83,2.38],
[-4.28,2.21],[-3.71,2.24],[-3.13,2.29],[-2.56,2.32],[-1.98,2.26],[-1.41,2.29],[-0.83,2.24],
[-3.85,2.09],[-3.28,2.12],[-2.7,2.15],[-2.13,2.12],[-1.55,2.09],[-0.98,2.12],[-0.49,2.03],
[-3.56,1.98],[-2.99,2.01],[-2.41,1.98],[-1.84,2.01],[-1.26,1.98],[-1.98,2.18],[-2.84,2.44],
[-4.3,2.3],[-3.9,2.35],[-3.5,2.4],[-3.2,2.35],[-2.9,2.45],[-2.6,2.4],[-2.3,2.4],[-2.0,2.45],[-1.7,2.4],[-1.4,2.4],[-1.1,2.35],[-0.8,2.3],[-0.6,2.15],[-3.9,2.15],[-3.5,2.2],[-3.1,2.2],[-2.8,2.2],[-2.5,2.25],[-2.2,2.2],[-1.9,2.15],[-1.6,2.2],[-1.3,2.15],[-1.0,2.2],[-0.7,2.05],[-3.3,2.05],[-2.7,2.05],[-2.1,2.05],[-1.5,2.0],[-0.9,1.95],[-4.8,2.25],[-5.2,2.15],[-4.5,2.05],[-2.6,2.6],[-2.1,2.55],[-1.7,2.6],[-1.1,2.55],[-0.7,2.4],[-2.9,1.92],[-2.0,1.92],[-1.4,1.9],[-3.7,2.3]];

const imp2013 = [[-5.09,1.49],[-3.07,1.63],[-1.06,1.67],[-3.28,2.84],[-2.59,2.84],[-3.79,2.64],[-1.49,2.72],[-1.26,2.64],[-0.98,1.83],[-2.07,1.82],[-4.51,1.9],
[-6.03,2.21],[-5.8,2.13],[-5.23,2.01],[-5.23,2.29],[-4.8,2.41],[-4.37,2.32],[-4.08,2.47],[-3.65,2.38],[-3.22,2.47],[-2.79,2.49],[-2.36,2.55],[-1.93,2.47],[-1.49,2.52],[-1.06,2.41],[-0.63,2.32],
[-4.22,2.18],[-3.65,2.24],[-3.07,2.26],[-2.5,2.29],[-1.93,2.24],[-1.35,2.26],[-0.78,2.21],[-0.34,2.24],
[-3.94,2.06],[-3.36,2.12],[-2.79,2.09],[-2.21,2.12],[-1.64,2.06],[-1.06,2.12],[-0.63,2.01],
[-3.22,1.98],[-2.64,2.01],[-2.07,1.95],[-1.49,1.98],[-2.36,1.89],
[-4.3,2.25],[-3.9,2.3],[-3.5,2.35],[-3.2,2.3],[-2.9,2.4],[-2.6,2.4],[-2.3,2.35],[-2.0,2.4],[-1.7,2.35],[-1.4,2.4],[-1.1,2.3],[-0.8,2.35],[-0.5,2.15],[-3.9,2.1],[-3.5,2.15],[-3.1,2.15],[-2.8,2.2],[-2.5,2.15],[-2.2,2.2],[-1.9,2.15],[-1.6,2.2],[-1.3,2.15],[-1.0,2.2],[-0.7,2.1],[-3.3,2.0],[-2.7,2.0],[-2.1,2.02],[-1.5,2.02],[-0.9,1.98],[-4.7,2.15],[-5.0,2.2],[-4.5,2.05],[-2.7,2.55],[-2.1,2.5],[-1.6,2.55],[-1.2,2.5],[-0.6,2.45],[-2.9,1.9],[-1.8,1.9],[-1.2,1.92],[-3.8,2.25]];

const imp2014 = [[-5.09,1.53],[-4.97,1.72],[-4.31,1.82],[-5.09,1.96],[-2.44,2.91],[-2.59,2.8],[-3.25,2.82],[-3.74,2.64],[-1.44,2.68],[-0.49,2.52],[-1.06,1.66],[-0.95,1.83],
[-6.18,2.14],[-5.83,2.14],[-5.37,2.34],[-5.03,2.21],[-4.74,2.29],[-4.45,2.41],[-4.02,2.47],[-3.59,2.49],[-3.02,2.58],[-2.59,2.61],[-2.16,2.55],[-1.72,2.58],[-1.29,2.49],[-0.86,2.38],[-3.3,2.38],
[-4.45,2.12],[-3.88,2.21],[-3.3,2.24],[-2.73,2.29],[-2.16,2.26],[-1.58,2.32],[-1.01,2.24],[-0.66,2.18],
[-4.02,2.03],[-3.45,2.09],[-2.87,2.12],[-2.3,2.09],[-1.72,2.12],[-1.15,2.06],[-0.43,2.01],
[-3.02,1.95],[-2.44,1.98],[-1.87,1.92],[-1.29,1.95],[-0.72,1.92],[-2.01,2.41],
[-4.3,2.25],[-3.9,2.35],[-3.5,2.4],[-3.2,2.35],[-2.9,2.45],[-2.6,2.4],[-2.3,2.4],[-2.0,2.45],[-1.7,2.45],[-1.4,2.4],[-1.1,2.35],[-0.8,2.3],[-0.5,2.2],[-3.9,2.1],[-3.5,2.15],[-3.1,2.15],[-2.8,2.2],[-2.5,2.15],[-2.2,2.2],[-1.9,2.2],[-1.6,2.15],[-1.3,2.2],[-1.0,2.15],[-0.7,2.05],[-3.3,2.0],[-2.7,2.0],[-2.1,2.0],[-1.5,2.0],[-0.9,1.95],[-4.8,2.1],[-5.2,2.25],[-4.6,2.0],[-2.7,2.55],[-2.3,2.55],[-1.6,2.6],[-1.1,2.55],[-0.7,2.45],[-3.0,1.92],[-1.8,1.9],[-1.2,1.9],[-3.8,2.25]];

const exportPoints = [exp2003, exp2004, exp2005, exp2006, exp2007, exp2008, exp2009, exp2010, exp2011, exp2012, exp2013, exp2014];
const importPoints = [imp2003, imp2004, imp2005, imp2006, imp2007, imp2008, imp2009, imp2010, imp2011, imp2012, imp2013, imp2014];

// fitted line per year: [x start, y start, x end, y end]
const exportFit = [[-6.34,2.47,-0.37,2.23],[-6.31,2.54,-0.54,2.27],[-6.29,2.52,-0.66,2.3],[-6.26,2.54,-0.69,2.32],
  [-6.23,2.54,-0.57,2.34],[-6.34,2.61,-0.54,2.36],[-6.29,2.51,-0.51,2.36],[-6.29,2.69,-0.49,2.36],
  [-6.23,2.67,-0.34,2.42],[-6.17,2.7,-0.46,2.38],[-6.17,2.71,-0.37,2.35],[-6.2,2.71,-0.49,2.35]];
const importFit = [[-6.35,2.13,-0.42,2.09],[-6.15,2.16,-0.49,2.1],[-6.32,2.18,-0.57,2.14],[-6.18,2.17,-0.57,2.16],
  [-6.35,2.2,-0.6,2.14],[-6.35,2.2,-0.55,2.2],[-6.32,2.2,-0.49,2.16],[-6.32,2.19,-0.43,2.2],
  [-6.12,2.2,-0.46,2.25],[-6.15,2.21,-0.49,2.2],[-6.03,2.17,-0.34,2.19],[-6.18,2.17,-0.43,2.19]];

const xTicks = [-6, -4, -2, 0];
const exportYTicks = [1, 2, 3, 4];
const importYTicks = [1, 2, 3];

// ---- styling ----
const NAVY = '#1a476f';
const MAROON = '#90353b';
const BG = '#eaf2f3';
const STRIP = '#d7e3e9';
const GRIDLINE = '#e3ecef';
const INK = '#000000';
const FONT = '"Liberation Sans", Arial, Helvetica, sans-serif';

const panels = [
  { points: exportPoints, fit: exportFit, yTicks: exportYTicks, yMin: 0.841, yMax: 4.159,
    left: 69, step: 104.67, width: 88, xMin: -6.94, xMax: 0.6, seriesName: 'Export Upstreamness',
    titleX: 260, box: [47, 626, 425, 33], dotLeft: 53, dotPad: 9, lineLeft: 283, lineW: 65, textPad: 9, noteX: 44 },
  { points: importPoints, fit: importFit, yTicks: importYTicks, yMin: 0.862, yMax: 3.379,
    left: 545, step: 104.3, width: 87, xMin: -6.92, xMax: 0.58, seriesName: 'Import Upstreamness',
    titleX: 735.5, box: [522, 626, 426, 33], dotLeft: 528.7, dotPad: 9, lineLeft: 759, lineW: 64, textPad: 10, noteX: 520 }
];

const ROW_STEP = 179.5, PLOT_TOP = 68, PLOT_H = 146, STRIP_H = 18;

const grid = [], xAxis = [], yAxis = [], series = [], graphic = [], legend = [];

graphic.push({ type: 'rect', z: -100, shape: { x: 6, y: 8, width: 976, height: 709 }, style: { fill: BG } });

panels.forEach((p) => {
  years.forEach((yr, k) => {
    const r = Math.floor(k / 4), c = k % 4;
    const gx = p.left + c * p.step;
    const gy = PLOT_TOP + r * ROW_STEP;
    const idx = grid.length;
    const firstCol = c === 0, lastRow = r === 2;

    grid.push({ left: gx, top: gy, width: p.width, height: PLOT_H, show: true,
      backgroundColor: '#ffffff', borderWidth: 0, containLabel: false });

    xAxis.push({ type: 'value', gridIndex: idx, min: p.xMin, max: p.xMax,
      axisLine: { show: lastRow, onZero: false, lineStyle: { color: INK, width: 1.3 } },
      axisTick: { show: lastRow, length: 4, customValues: xTicks, lineStyle: { color: INK, width: 1 } },
      axisLabel: { show: lastRow, customValues: xTicks, margin: 5, fontSize: 10.5, color: INK, fontFamily: FONT },
      splitLine: { show: false } });

    yAxis.push({ type: 'value', gridIndex: idx, min: p.yMin, max: p.yMax,
      axisLine: { show: firstCol, onZero: false, lineStyle: { color: INK, width: 1.3 } },
      axisTick: { show: firstCol, length: 5, customValues: p.yTicks, lineStyle: { color: INK, width: 1 } },
      axisLabel: { show: firstCol, customValues: p.yTicks, rotate: 90, margin: 8, fontSize: 10.5, color: INK, fontFamily: FONT },
      splitLine: { show: true, lineStyle: { color: GRIDLINE, width: 1.2 } } });

    series.push({ type: 'scatter', name: p.seriesName, xAxisIndex: idx, yAxisIndex: idx,
      data: p.points[k], symbol: 'circle', symbolSize: 8, itemStyle: { color: NAVY, opacity: 1 },
      silent: true, z: 2 });

    const f = p.fit[k];
    series.push({ type: 'line', name: 'Fitted values', xAxisIndex: idx, yAxisIndex: idx,
      data: [[f[0], f[1]], [f[2], f[3]]], symbol: 'none', showSymbol: false,
      lineStyle: { color: MAROON, width: 1.3 }, itemStyle: { color: MAROON }, silent: true, z: 3 });

    // year strip above each plot
    graphic.push({ type: 'rect', z: 1, shape: { x: gx, y: gy - STRIP_H, width: p.width, height: STRIP_H },
      style: { fill: STRIP } });
    graphic.push({ type: 'text', z: 2, x: gx + p.width / 2, y: gy - STRIP_H / 2,
      style: { text: yr, fill: '#111', font: '12px ' + FONT, align: 'center', verticalAlign: 'middle' } });
  });

  // axis title
  graphic.push({ type: 'text', z: 2, x: p.titleX, y: 610,
    style: { text: 'Log (Capital per worker)', fill: INK, font: '18.5px ' + FONT, align: 'center', verticalAlign: 'middle' } });
  // legend frame
  graphic.push({ type: 'rect', z: 1, shape: { x: p.box[0], y: p.box[1], width: p.box[2], height: p.box[3] },
    style: { fill: '#ffffff', stroke: INK, lineWidth: 1.3 } });
  // note
  graphic.push({ type: 'text', z: 2, x: p.noteX, y: 678,
    style: { text: 'Graphs by year', fill: INK, font: '14px ' + FONT, align: 'left', verticalAlign: 'middle' } });

  legend.push({ data: [{ name: p.seriesName, icon: 'circle' }], left: p.dotLeft, top: 635, padding: 0,
    itemWidth: 10, itemHeight: 10, selectedMode: false, z: 5,
    textStyle: { fontSize: 18.5, color: INK, fontFamily: FONT, padding: [0, 0, 0, p.dotPad] } });
  legend.push({ data: [{ name: 'Fitted values', icon: 'rect' }], left: p.lineLeft, top: 635, padding: 0,
    itemWidth: p.lineW, itemHeight: 1.4, selectedMode: false, z: 5,
    textStyle: { fontSize: 18.5, color: INK, fontFamily: FONT, padding: [0, 0, 0, p.textPad] } });
});

const chart = echarts.init(document.getElementById('chart'), null, { renderer: 'svg' });
chart.setOption({
  backgroundColor: '#ffffff',
  animation: false,
  textStyle: { fontFamily: FONT },
  grid, xAxis, yAxis, series, legend, graphic
});
</script>
</body>
</html>
